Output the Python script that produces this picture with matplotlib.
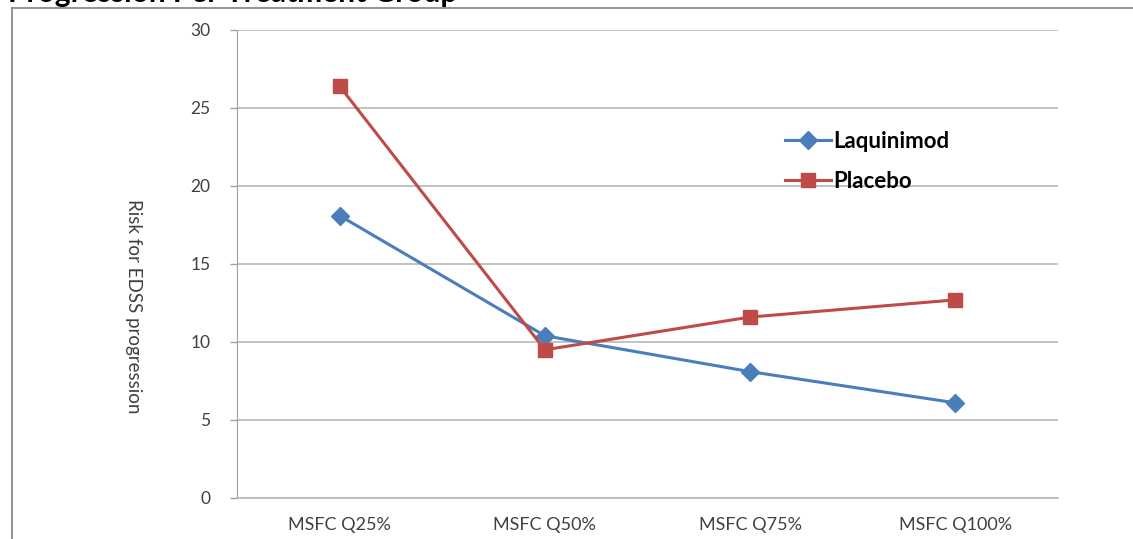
import matplotlib
matplotlib.use("Agg")
import matplotlib.pyplot as plt
from matplotlib.lines import Line2D

categories = ["MSFC Q25%", "MSFC Q50%", "MSFC Q75%", "MSFC Q100%"]
laquinimod = [18.1, 10.4, 8.1, 6.1]
placebo = [26.4, 9.5, 11.6, 12.7]
y_ticks = [0, 5, 10, 15, 20, 25, 30]

W, H = 1133, 539
fig = plt.figure(figsize=(W / 100, H / 100), dpi=100)
fig.patch.set_facecolor("white")

ax = fig.add_axes([237 / W, (H - 498) / H, (1058 - 237) / W, (498 - 30) / H])

x = list(range(len(categories)))
blue = "#4a7ebb"
red = "#be4b48"
ax.plot(x, laquinimod, color=blue, lw=2.2, marker="D", ms=9,
        markerfacecolor=blue, markeredgecolor=blue, label="Laquinimod", zorder=3)
ax.plot(x, placebo, color=red, lw=2.2, marker="s", ms=10,
        markerfacecolor=red, markeredgecolor=red, label="Placebo", zorder=3)

ax.set_xlim(-0.5, len(categories) - 0.5)
ax.set_ylim(0, 30)
ax.set_yticks(y_ticks)
ax.set_yticklabels([str(v) for v in y_ticks], fontsize=12.5, color="#404040",
                   family="Lato")
ax.set_xticks(x)
ax.set_xticklabels(categories, fontsize=13, color="#404040", family="Lato")
ax.tick_params(axis="x", length=0, pad=14)
ax.tick_params(axis="y", length=5, width=1, color="#a0a0a0", pad=14)

ax.grid(axis="y", color="#b8b8b8", lw=1.2)
ax.set_axisbelow(True)
for side in ("top", "right"):
    ax.spines[side].set_visible(False)
ax.spines["left"].set_color("#a0a0a0")
ax.spines["bottom"].set_color("#b8b8b8")
ax.spines["bottom"].set_linewidth(1.2)

leg = ax.legend(loc="upper left", bbox_to_anchor=(0.667, 0.785), frameon=False,
                prop={"family": "Lato", "weight": "bold", "size": 16},
                handlelength=2.1, handletextpad=0.1, labelspacing=0.85,
                borderaxespad=0, borderpad=0)

fig.text(133 / W, 1 - 306 / H, "Risk for EDSS progression", rotation=270,
         ha="center", va="center", fontsize=13.5, color="#404040", family="Lato")

# outer frame around the chart
fig.add_artist(Line2D([12 / W, 12 / W], [0, 1 - 8 / H], color="#808080", lw=1.2,
                      transform=fig.transFigure))
fig.add_artist(Line2D([12 / W, 1], [1 - 8 / H, 1 - 8 / H], color="#808080", lw=1.2,
                      transform=fig.transFigure))

fig.text(8 / W, 1 - 2 / H, "Progression Per Treatment Group", ha="left",
         va="baseline", fontsize=21.5, fontweight="bold", family="Lato", color="black")

fig.savefig("out.png", dpi=100)
